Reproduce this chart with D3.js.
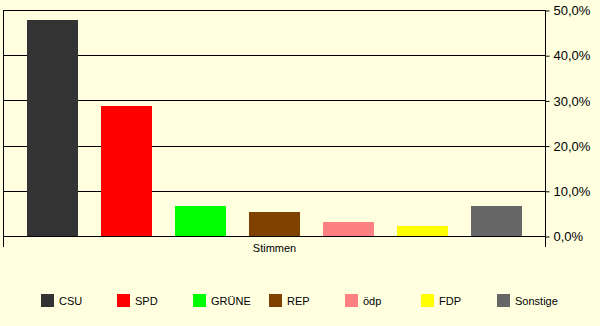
<!DOCTYPE html>
<html>
<head>
<meta charset="utf-8">
<script src="https://cdn.jsdelivr.net/npm/d3@7"></script>
<style>
  body { margin: 0; background: #ffffe0; }
  svg { display: block; font-family: "Liberation Sans", Arial, sans-serif; }
</style>
</head>
<body>
<svg width="600" height="326"></svg>
<script>
// election results, share of votes in percent
var parties = ["CSU", "SPD", "GRÜNE", "REP", "ödp", "FDP", "Sonstige"];
var shares = [47.8, 28.7, 6.6, 5.3, 3.1, 2.2, 6.6];
var colors = ["#333333", "#ff0000", "#00ff00", "#804000", "#ff8080", "#ffff00", "#666666"];
var yTicks = [0, 10, 20, 30, 40, 50];
var categoryLabel = "Stimmen";

var svg = d3.select("svg");
var plotLeft = 4, plotRight = 545, plotTop = 10, plotBottom = 236;

var x = d3.scaleBand()
  .domain(parties)
  .range([plotLeft, plotRight])
  .paddingInner(0.31)
  .paddingOuter(0.31);

var y = d3.scaleLinear()
  .domain([0, 50])
  .range([plotBottom, plotTop]);

var data = parties.map(function(p, i) {
  return { party: p, value: shares[i], color: colors[i] };
});

// gridlines
svg.append("g")
  .selectAll("line")
  .data(yTicks)
  .enter()
  .append("line")
  .attr("x1", plotLeft)
  .attr("x2", plotRight)
  .attr("y1", function(d) { return Math.round(y(d)) + 0.5; })
  .attr("y2", function(d) { return Math.round(y(d)) + 0.5; })
  .attr("stroke", "#000")
  .attr("stroke-width", 1);

// bars
svg.append("g")
  .selectAll("rect")
  .data(data)
  .enter()
  .append("rect")
  .attr("x", function(d) { return Math.round(x(d.party)); })
  .attr("y", function(d) { return Math.round(y(d.value)); })
  .attr("width", Math.round(x.bandwidth()))
  .attr("height", function(d) { return plotBottom - Math.round(y(d.value)); })
  .attr("fill", function(d) { return d.color; });

// left frame line + category tick
svg.append("line")
  .attr("x1", plotLeft - 0.5).attr("x2", plotLeft - 0.5)
  .attr("y1", plotTop).attr("y2", plotBottom + 11)
  .attr("stroke", "#000");

// right value axis
var yAxis = d3.axisRight(y)
  .tickValues(yTicks)
  .tickSize(4)
  .tickPadding(4)
  .tickFormat(function(d) { return d3.format(".1f")(d).replace(".", ",") + "%"; });

var ax = svg.append("g")
  .attr("transform", "translate(" + (plotRight + 0.5) + ",0.5)")
  .call(yAxis);
ax.select(".domain").remove();
ax.selectAll(".tick line").attr("stroke", "#000");
ax.selectAll("text")
  .attr("fill", "#000")
  .style("font-size", "13px")
  .style("font-family", "'Liberation Sans', Arial, sans-serif");

svg.append("line")
  .attr("x1", plotRight + 0.5).attr("x2", plotRight + 0.5)
  .attr("y1", plotTop).attr("y2", plotBottom + 11)
  .attr("stroke", "#000");

// category label
svg.append("text")
  .attr("x", (plotLeft + plotRight) / 2)
  .attr("y", 252)
  .attr("text-anchor", "middle")
  .style("font-size", "11px")
  .text(categoryLabel);

// legend
var legend = svg.append("g")
  .selectAll("g")
  .data(data)
  .enter()
  .append("g")
  .attr("transform", function(d, i) { return "translate(" + (41 + i * 76) + ",294)"; });

legend.append("rect")
  .attr("width", 13)
  .attr("height", 13)
  .attr("fill", function(d) { return d.color; });

legend.append("text")
  .attr("x", 18)
  .attr("y", 11)
  .style("font-size", "11px")
  .text(function(d) { return d.party; });
</script>
</body>
</html>
